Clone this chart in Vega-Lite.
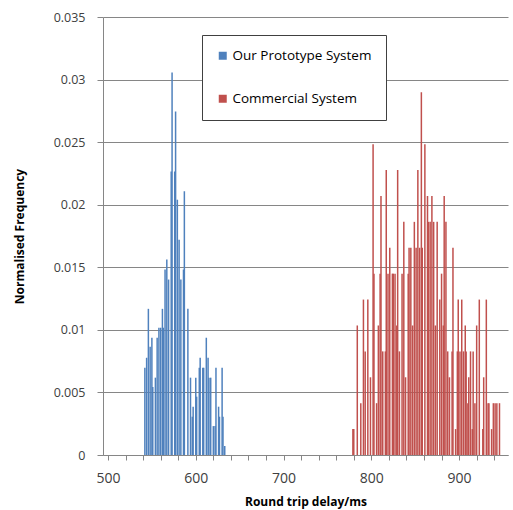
{
  "$schema": "https://vega.github.io/schema/vega-lite/v6.json",
  "autosize": "none",
  "width": 405,
  "height": 438,
  "padding": {"left": 103, "top": 17, "right": 5, "bottom": 55},
  "background": "white",
  "config": {"view": {"stroke": null}, "font": "Open Sans"},
  "datasets": {
    "prototype": [
      {"delay": 542, "freq": 0.00697}, {"delay": 544, "freq": 0.00777}, {"delay": 546, "freq": 0.01168},
      {"delay": 548, "freq": 0.00865}, {"delay": 550, "freq": 0.00937}, {"delay": 551, "freq": 0.00543},
      {"delay": 554, "freq": 0.00618}, {"delay": 556, "freq": 0.00937}, {"delay": 558, "freq": 0.01017},
      {"delay": 560, "freq": 0.01017}, {"delay": 562, "freq": 0.01168}, {"delay": 563, "freq": 0.01017},
      {"delay": 565, "freq": 0.01482}, {"delay": 567, "freq": 0.01562}, {"delay": 569, "freq": 0.01402},
      {"delay": 572, "freq": 0.02266}, {"delay": 573, "freq": 0.03056}, {"delay": 576, "freq": 0.02266},
      {"delay": 577, "freq": 0.02745}, {"delay": 579, "freq": 0.0204}, {"delay": 581, "freq": 0.01721},
      {"delay": 583, "freq": 0.01402}, {"delay": 586, "freq": 0.01482}, {"delay": 587, "freq": 0.02107},
      {"delay": 591, "freq": 0.01168}, {"delay": 594, "freq": 0.00618}, {"delay": 596, "freq": 0.00306},
      {"delay": 597, "freq": 0.00386}, {"delay": 600, "freq": 0.00618}, {"delay": 601, "freq": 0.00466},
      {"delay": 604, "freq": 0.00697}, {"delay": 605, "freq": 0.00777}, {"delay": 608, "freq": 0.00697},
      {"delay": 609, "freq": 0.00697}, {"delay": 612, "freq": 0.00937}, {"delay": 614, "freq": 0.00777},
      {"delay": 615, "freq": 0.00618}, {"delay": 617, "freq": 0.00618}, {"delay": 620, "freq": 0.00231},
      {"delay": 622, "freq": 0.00231}, {"delay": 623, "freq": 0.00697}, {"delay": 626, "freq": 0.00386},
      {"delay": 627, "freq": 0.00306}, {"delay": 630, "freq": 0.00697}, {"delay": 631, "freq": 0.00306},
      {"delay": 633, "freq": 0.00072}
    ],
    "commercial": [
      {"delay": 779, "freq": 0.00207}, {"delay": 780, "freq": 0.00207}, {"delay": 784, "freq": 0.01035},
      {"delay": 788, "freq": 0.00414}, {"delay": 791, "freq": 0.01242}, {"delay": 793, "freq": 0.00828},
      {"delay": 796, "freq": 0.01242}, {"delay": 799, "freq": 0.00621}, {"delay": 802, "freq": 0.02484},
      {"delay": 803, "freq": 0.01449}, {"delay": 806, "freq": 0.00414}, {"delay": 808, "freq": 0.01035},
      {"delay": 810, "freq": 0.01449}, {"delay": 811, "freq": 0.0207}, {"delay": 813, "freq": 0.00828},
      {"delay": 816, "freq": 0.00828}, {"delay": 817, "freq": 0.02277}, {"delay": 819, "freq": 0.01449},
      {"delay": 821, "freq": 0.01656}, {"delay": 824, "freq": 0.01449}, {"delay": 825, "freq": 0.01449},
      {"delay": 827, "freq": 0.01449}, {"delay": 829, "freq": 0.01035}, {"delay": 830, "freq": 0.02277},
      {"delay": 832, "freq": 0.00828}, {"delay": 835, "freq": 0.01449}, {"delay": 837, "freq": 0.01863},
      {"delay": 839, "freq": 0.00621}, {"delay": 842, "freq": 0.01449}, {"delay": 843, "freq": 0.01656},
      {"delay": 845, "freq": 0.01656}, {"delay": 847, "freq": 0.01035}, {"delay": 849, "freq": 0.01863},
      {"delay": 851, "freq": 0.01656}, {"delay": 853, "freq": 0.02277}, {"delay": 855, "freq": 0.01656},
      {"delay": 857, "freq": 0.02898}, {"delay": 858, "freq": 0.01656}, {"delay": 861, "freq": 0.02484},
      {"delay": 864, "freq": 0.0207}, {"delay": 865, "freq": 0.01863}, {"delay": 867, "freq": 0.01863},
      {"delay": 869, "freq": 0.0207}, {"delay": 871, "freq": 0.01863}, {"delay": 873, "freq": 0.01035},
      {"delay": 875, "freq": 0.01863}, {"delay": 878, "freq": 0.01242}, {"delay": 880, "freq": 0.01449},
      {"delay": 882, "freq": 0.01035}, {"delay": 883, "freq": 0.0207}, {"delay": 885, "freq": 0.01863},
      {"delay": 887, "freq": 0.00828}, {"delay": 889, "freq": 0.00621}, {"delay": 892, "freq": 0.00828},
      {"delay": 893, "freq": 0.01656}, {"delay": 896, "freq": 0.00207}, {"delay": 898, "freq": 0.00828},
      {"delay": 899, "freq": 0.01242}, {"delay": 901, "freq": 0.00828}, {"delay": 903, "freq": 0.01242},
      {"delay": 905, "freq": 0.00828}, {"delay": 907, "freq": 0.01035}, {"delay": 908, "freq": 0.00828},
      {"delay": 910, "freq": 0.00414}, {"delay": 911, "freq": 0.00621}, {"delay": 913, "freq": 0.00828},
      {"delay": 915, "freq": 0.00207}, {"delay": 916, "freq": 0.00828}, {"delay": 918, "freq": 0.00414},
      {"delay": 920, "freq": 0.01035}, {"delay": 923, "freq": 0.01242}, {"delay": 927, "freq": 0.00207},
      {"delay": 928, "freq": 0.00621}, {"delay": 931, "freq": 0.01242}, {"delay": 933, "freq": 0.00414},
      {"delay": 934, "freq": 0.00414}, {"delay": 937, "freq": 0.00207}, {"delay": 939, "freq": 0.00414},
      {"delay": 941, "freq": 0.00414}, {"delay": 943, "freq": 0.00414}, {"delay": 946, "freq": 0.00414}
    ]
  },
  "layer": [
    {
      "data": {"name": "prototype"},
      "transform": [{"calculate": "'Our Prototype System'", "as": "system"}],
      "mark": {"type": "bar", "width": 1.5},
      "encoding": {
        "x": {"field": "delay", "type": "quantitative"},
        "y": {"field": "freq", "type": "quantitative"},
        "color": {"field": "system", "type": "nominal"}
      }
    },
    {
      "data": {"name": "commercial"},
      "transform": [{"calculate": "'Commercial System'", "as": "system"}],
      "mark": {"type": "bar", "width": 1.5},
      "encoding": {
        "x": {"field": "delay", "type": "quantitative"},
        "y": {"field": "freq", "type": "quantitative"},
        "color": {"field": "system", "type": "nominal"}
      }
    }
  ],
  "encoding": {
    "x": {
      "field": "delay", "type": "quantitative",
      "scale": {"domain": [500, 950], "nice": false, "zero": false},
      "axis": {
        "title": "Round trip delay/ms",
        "values": [500, 520, 540, 560, 580, 600, 620, 640, 660, 680, 700, 720, 740, 760, 780, 800, 820, 840, 860, 880, 900, 920, 940],
        "labelExpr": "datum.value % 100 === 0 ? datum.label : ''",
        "grid": false,
        "domainColor": "#868686",
        "tickColor": "#868686",
        "tickSize": 5,
        "labelPadding": 11,
        "labelFontSize": 14,
        "labelColor": "#404040",
        "labelFont": "Open Sans",
        "titleFont": "Open Sans",
        "titleFontSize": 12,
        "titleFontWeight": "bold",
        "titleColor": "#000000",
        "titlePadding": 11
      }
    },
    "y": {
      "field": "freq", "type": "quantitative",
      "scale": {"domain": [0, 0.035], "nice": false},
      "axis": {
        "title": "Normalised Frequency",
        "values": [0, 0.005, 0.01, 0.015, 0.02, 0.025, 0.03, 0.035],
        "format": "~g",
        "grid": true,
        "gridColor": "#868686",
        "domainColor": "#868686",
        "tickColor": "#868686",
        "tickSize": 6,
        "labelPadding": 12,
        "labelFontSize": 12.5,
        "labelColor": "#404040",
        "labelFont": "Open Sans",
        "titleFont": "Open Sans",
        "titleFontSize": 12,
        "titleFontWeight": "bold",
        "titleColor": "#000000",
        "titlePadding": 27
      }
    },
    "color": {
      "field": "system", "type": "nominal",
      "scale": {"domain": ["Our Prototype System", "Commercial System"], "range": ["#4F81BD", "#C0504D"]},
      "legend": {
        "title": null,
        "orient": "none",
        "legendX": 99,
        "legendY": 18,
        "symbolType": "square",
        "symbolSize": 64,
        "symbolStrokeWidth": 0,
        "labelFont": "Open Sans",
        "labelFontSize": 13.5,
        "labelColor": "#000000",
        "labelOffset": 3,
        "padding": 14,
        "rowPadding": 28,
        "strokeColor": "#404040",
        "fillColor": "#ffffff"
      }
    }
  }
}
